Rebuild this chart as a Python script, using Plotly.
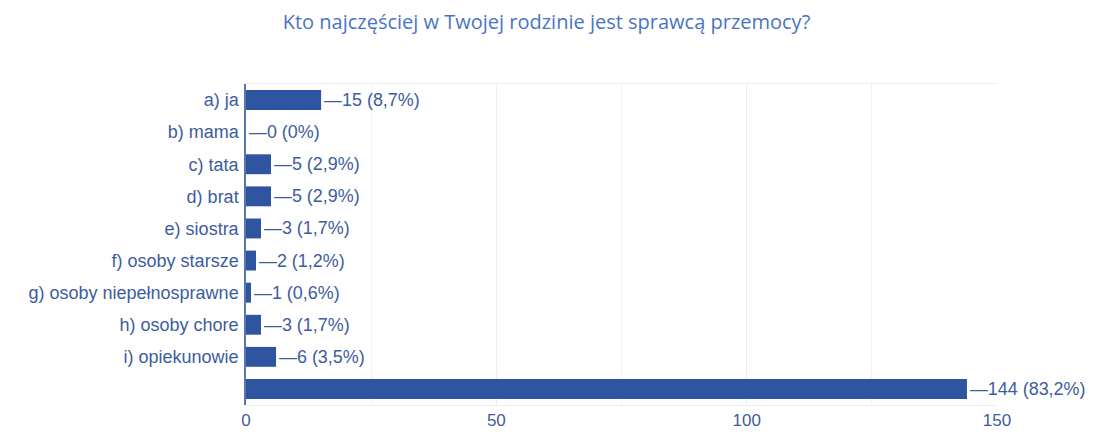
import plotly.graph_objects as go

categories = ["a) ja", "b) mama", "c) tata", "d) brat", "e) siostra", "f) osoby starsze",
              "g) osoby niepełnosprawne", "h) osoby chore", "i) opiekunowie", " "]
values = [15, 0, 5, 5, 3, 2, 1, 3, 6, 144]
percents = ["8,7%", "0%", "2,9%", "2,9%", "1,7%", "1,2%", "0,6%", "1,7%", "3,5%", "83,2%"]
x_ticks = [0, 50, 100, 150]

labels = [f"—{v} ({p})" for v, p in zip(values, percents)]

text_color = "#3d5c9f"
bar_color = "#2f54a0"

fig = go.Figure(go.Bar(
    x=values, y=categories, orientation="h",
    marker=dict(color=bar_color, line=dict(width=0)),
    text=labels, textposition="outside", cliponaxis=False,
    textfont=dict(family="Liberation Sans, Arial", size=18, color=text_color),
))

fig.update_layout(
    width=1085, height=427,
    margin=dict(l=238, r=96, t=76, b=30, autoexpand=False),
    paper_bgcolor="white", plot_bgcolor="white",
    bargap=0.38,
    showlegend=False,
    title=dict(text="Kto najczęściej w Twojej rodzinie jest sprawcą przemocy?",
               x=0.4963, xanchor="center", y=0.967, yanchor="middle",
               font=dict(family="Open Sans, Noto Sans", size=20, color="#4a74c6")),
    font=dict(family="Liberation Sans, Arial", size=18, color=text_color),
)
fig.update_xaxes(range=[0, 150], tickvals=x_ticks, showgrid=True, gridcolor="#eceef6",
                 gridwidth=1, zeroline=False, ticks="", showline=True, linecolor="#eceef6",
                 mirror=True, tickfont=dict(size=17, color=text_color),
                 minor=dict(tickvals=[25, 75, 125], showgrid=True, gridcolor="#f1f2f8"))
fig.update_yaxes(autorange="reversed", showline=True, linecolor="#5a76b0", linewidth=1.5,
                 ticks="", showgrid=False, tickfont=dict(size=18, color=text_color),
                 ticklabelstandoff=2)

fig.write_html("out.html")
